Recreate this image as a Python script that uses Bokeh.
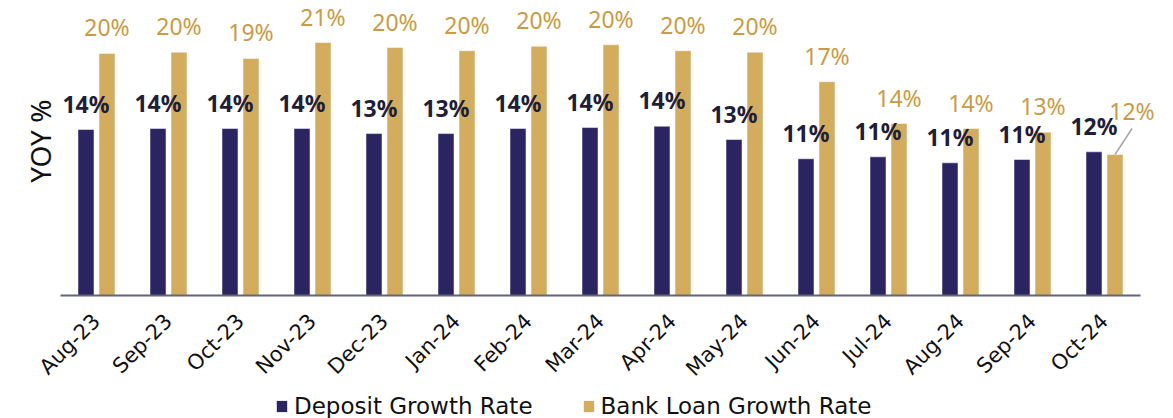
import math
from bokeh.plotting import figure
from bokeh.layouts import column
from bokeh.models import (ColumnDataSource, Range1d, Legend, LegendItem, LabelSet, Title,
                          FixedTicker)
from bokeh.core.properties import value
from bokeh.embed import file_html
from bokeh.resources import INLINE

# ---- data (YoY %) ----
months = ["Aug-23", "Sep-23", "Oct-23", "Nov-23", "Dec-23", "Jan-24", "Feb-24", "Mar-24",
          "Apr-24", "May-24", "Jun-24", "Jul-24", "Aug-24", "Sep-24", "Oct-24"]
deposit_growth = [13.55, 13.63, 13.63, 13.63, 13.22, 13.22, 13.63, 13.71,
                  13.82, 12.73, 11.16, 11.32, 10.83, 11.10, 11.73]
loan_growth = [19.76, 19.86, 19.35, 20.65, 20.24, 19.98, 20.35, 20.47,
               19.98, 19.86, 17.45, 14.04, 13.63, 13.33, 11.51]
series_names = ["Deposit Growth Rate", "Bank Loan Growth Rate"]
y_title = "YOY %"

# ---- styling ----
NAVY = "#2a2561"
GOLD = "#d4ac5d"
DEP_TXT = "#1f1d38"
LOAN_TXT = "#c99b44"
CAT_PX = 72                      # pixels per month
N = len(months)
EXTRA_RIGHT = 20                 # room for the last outside label
FRAME_W = N * CAT_PX + EXTRA_RIGHT
FRAME_H = 287
PPU = 12.25                      # pixels per percentage point
BAR_W = 16 / CAT_PX
OFF = 10.5 / CAT_PX

def pct(v):
    return f"{int(v + 0.5)}%"

centers = [i + 0.5 for i in range(N)]
loan_dx = [0] * N
loan_dy = [17] * N
loan_dx[-1] = 17
loan_dy[-1] = 35

src = ColumnDataSource(dict(
    month=months, deposit=deposit_growth, loan=loan_growth,
    xd=[c - OFF for c in centers], xl=[c + OFF for c in centers],
    dep_lbl=[pct(v) for v in deposit_growth],
    loan_lbl=[pct(v) for v in loan_growth],
    loan_dx=loan_dx, loan_dy=loan_dy,
))
leader_src = ColumnDataSource(dict(
    x0=[centers[-1] + OFF], x1=[centers[-1] + OFF + 17 / CAT_PX],
    y0=[loan_growth[-1]], y1=[loan_growth[-1] + 26 / PPU],
))

p = figure(
    x_range=Range1d(0, FRAME_W / CAT_PX),
    y_range=Range1d(0, FRAME_H / PPU),
    frame_width=FRAME_W, frame_height=FRAME_H,
    min_border_left=60, min_border_right=13, min_border_top=8, min_border_bottom=91,
    output_backend="svg", toolbar_location=None,
    background_fill_color="white", border_fill_color="white",
    outline_line_color=None,
)
p.xgrid.visible = False
p.ygrid.visible = False
p.yaxis.visible = False

dep = p.vbar(x="xd", top="deposit", width=BAR_W, source=src,
             fill_color=NAVY, line_color="white", line_alpha=0.5, line_width=1)
loan = p.vbar(x="xl", top="loan", width=BAR_W, source=src,
              fill_color=GOLD, line_color="white", line_alpha=0.5, line_width=1)

p.add_layout(LabelSet(x="xd", y="deposit", text="dep_lbl",
                      source=src, text_align="center", text_baseline="alphabetic", y_offset=17,
                      text_font=value("Noto Sans"), text_font_style="bold",
                      text_font_size="23px", text_color=DEP_TXT))
p.add_layout(LabelSet(x="xl", y="loan", text="loan_lbl",
                      source=src, text_align="center", text_baseline="alphabetic",
                      x_offset="loan_dx", y_offset="loan_dy",
                      text_font=value("Noto Sans"), text_font_size="23px",
                      text_color=LOAN_TXT))

p.segment(x0="x0", y0="y0", x1="x1", y1="y1", source=leader_src,
          line_color="#a6a6a6", line_width=1.5)

# y title
p.add_layout(Title(text=y_title, align="right", offset=91, standoff=3,
                   text_font="Noto Sans", text_font_size="28px", text_font_style="normal",
                   text_color="#111111"), "left")

# x axis
p.xaxis.ticker = FixedTicker(ticks=centers)
p.xaxis.major_label_overrides = {c: m for c, m in zip(centers, months)}
p.xaxis.bounds = (0, N)
p.xaxis.major_label_orientation = math.pi / 4
p.xaxis.major_label_text_font = "DejaVu Sans"
p.xaxis.major_label_text_font_size = "21px"
p.xaxis.major_label_text_color = "#111111"
p.xaxis.major_tick_line_color = None
p.xaxis.major_tick_out = 0
p.xaxis.minor_tick_line_color = None
p.xaxis.axis_line_color = "#64647a"
p.xaxis.axis_line_width = 2
p.xaxis.major_label_standoff = 22

# ---- legend strip (its frame is aligned with the chart frame by the column) ----
LEG_W = 60 + FRAME_W + 13
LEG_H = 32
lg = figure(
    width=LEG_W, height=LEG_H,
    x_range=Range1d(0, 1), y_range=Range1d(0, 1),
    min_border=0, output_backend="svg", toolbar_location=None,
    background_fill_color="white", border_fill_color="white", outline_line_color=None,
)
lg.xaxis.visible = False
lg.yaxis.visible = False
lg.xgrid.visible = False
lg.ygrid.visible = False
# zero-height swatch carriers (draw nothing themselves)
r1 = lg.vbar(x=[0.5], top=[0], bottom=[0], width=0.01, fill_color=NAVY, line_color=None)
r2 = lg.vbar(x=[0.5], top=[0], bottom=[0], width=0.01, fill_color=GOLD, line_color=None)
legend = Legend(
    items=[LegendItem(label=series_names[0], renderers=[r1]),
           LegendItem(label=series_names[1], renderers=[r2])],
    orientation="horizontal", location=(215, 5),
    glyph_width=13, glyph_height=14,
    label_text_font="DejaVu Sans", label_text_font_size="23px", label_text_color="#111111",
    label_standoff=6, spacing=49, padding=0, margin=0,
    border_line_color=None, background_fill_alpha=0,
)
lg.add_layout(legend)

layout = column(p, lg, spacing=0)
open("out.html", "w").write(file_html(layout, INLINE))
